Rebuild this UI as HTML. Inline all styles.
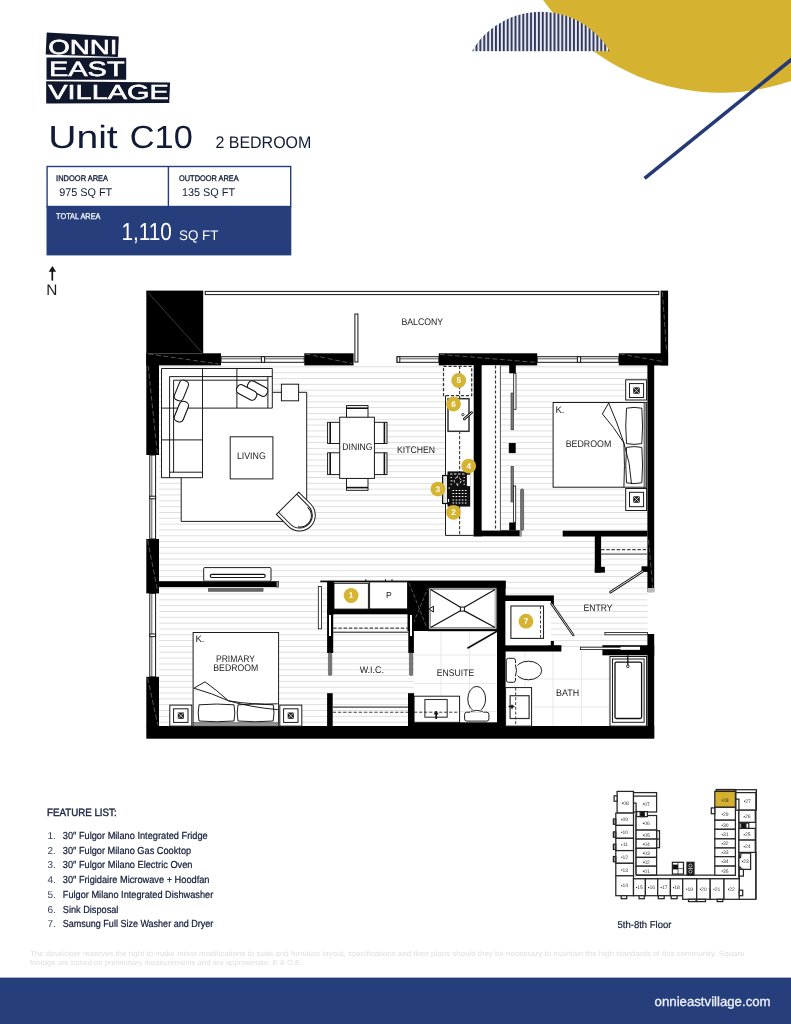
<!DOCTYPE html>
<html>
<head>
<meta charset="utf-8">
<title>Unit C10</title>
<style>
html,body{margin:0;padding:0;background:#fff;}
body{width:791px;height:1024px;overflow:hidden;font-family:"Liberation Sans",sans-serif;}
svg{display:block;position:absolute;left:0;top:0;will-change:transform;}
text{font-family:"Liberation Sans",sans-serif;text-rendering:geometricPrecision;}
.nv{fill:#111a36;}
.lbl{fill:#222;font-size:9.6px;}
</style>
</head>
<body>
<svg width="791" height="1024" viewBox="0 0 791 1024">
<defs>
  <pattern id="wood" x="0" y="5.2" width="10" height="5.825" patternUnits="userSpaceOnUse">
    <rect x="0" y="0" width="10" height="0.95" fill="#dedede"/>
  </pattern>
  <clipPath id="segclip"><circle cx="540.8" cy="91.5" r="79.8"/></clipPath>
  <pattern id="vstripe" x="534.05" y="0" width="3.9" height="10" patternUnits="userSpaceOnUse">
    <rect x="0" y="0" width="3.9" height="10" fill="#e6e8f5"/>
    <rect x="0" y="0" width="1.8" height="10" fill="#272e50"/>
  </pattern>
</defs>
<g>

<!-- ===== TOP RIGHT ART ===== -->
<g id="art">
  <circle cx="721" cy="-124.5" r="217.2" fill="#d5b331"/>
  <g clip-path="url(#segclip)"><rect x="470" y="10" width="142" height="41.2" fill="url(#vstripe)"/></g>
  <line x1="644.6" y1="178.3" x2="793" y2="58.3" stroke="#253a75" stroke-width="3.6"/>
</g>

<!-- ===== LOGO ===== -->
<g id="logo">
  <polygon points="46.7,32.4 118.8,36.5 117.9,56.9 45.7,54.4" fill="#10162c"/>
  <polygon points="46.5,57.5 126.2,57.7 126.2,79.7 46.5,79.7" fill="#10162c"/>
  <polygon points="46.2,81.3 170.1,82.5 169.2,102.9 46.2,103.4" fill="#10162c"/>
  <text x="48.3" y="53.8" font-size="20.3" fill="#fff" textLength="69.2" stroke="#fff" stroke-width="0.55" lengthAdjust="spacingAndGlyphs">ONNI</text>
  <text x="49" y="76.4" font-size="20.8" fill="#fff" textLength="75.6" stroke="#fff" stroke-width="0.55" lengthAdjust="spacingAndGlyphs">EAST</text>
  <text x="48.3" y="99.4" font-size="20.3" fill="#fff" textLength="120.5" stroke="#fff" stroke-width="0.55" lengthAdjust="spacingAndGlyphs">VILLAGE</text>
</g>

<!-- ===== TITLE ===== -->
<g id="title">
  <text x="48.2" y="147.6" font-size="32" class="nv" textLength="69.5" lengthAdjust="spacingAndGlyphs">Unit</text>
  <text x="129.8" y="147.6" font-size="32" class="nv" textLength="63" lengthAdjust="spacingAndGlyphs">C10</text>
  <text x="215.4" y="147.6" font-size="16.9" class="nv" textLength="96" lengthAdjust="spacingAndGlyphs">2 BEDROOM</text>
</g>

<!-- ===== AREA TABLE ===== -->
<g id="areas">
  <rect x="46.5" y="206" width="244.8" height="49.4" fill="#263e7c"/>
  <rect x="47.1" y="166.5" width="243.6" height="40" fill="#fff" stroke="#263e7c" stroke-width="1.4"/>
  <line x1="168.4" y1="166.4" x2="168.4" y2="206.4" stroke="#263e7c" stroke-width="1.4"/>
  <text x="56.1" y="181" font-size="8.2" class="nv" stroke="#111a36" stroke-width="0.3" textLength="52" lengthAdjust="spacingAndGlyphs">INDOOR AREA</text>
  <text x="59.2" y="196.3" font-size="11.2" class="nv" textLength="53" lengthAdjust="spacingAndGlyphs">975 SQ FT</text>
  <text x="179" y="181" font-size="8.2" class="nv" stroke="#111a36" stroke-width="0.3" textLength="59.7" lengthAdjust="spacingAndGlyphs">OUTDOOR AREA</text>
  <text x="182" y="196.3" font-size="11.2" class="nv" textLength="53" lengthAdjust="spacingAndGlyphs">135 SQ FT</text>
  <text x="56.1" y="219.3" font-size="8.2" fill="#fff" stroke="#fff" stroke-width="0.25" textLength="44.4" lengthAdjust="spacingAndGlyphs">TOTAL AREA</text>
  <text x="121.4" y="240.2" font-size="24.6" fill="#fff" textLength="50.5" lengthAdjust="spacingAndGlyphs">1,110</text>
  <text x="179" y="240.2" font-size="14" fill="#fff" textLength="39.5" lengthAdjust="spacingAndGlyphs">SQ FT</text>
</g>

<!-- ===== NORTH ARROW ===== -->
<g id="north">
  <line x1="52.3" y1="270" x2="52.3" y2="280.6" stroke="#161616" stroke-width="1.7"/>
  <polygon points="52.4,266 48.7,271.8 56.1,271.8" fill="#161616"/>
  <text x="46.2" y="294.6" font-size="15.4" fill="#1c1c1c">N</text>
</g>

<!-- ===== FLOOR PLAN ===== -->
<g id="plan">
  <!-- floor: wood hatch -->
  <g id="floor">
    <rect x="159" y="365" width="488.5" height="361" fill="#fff"/>
    <rect x="159" y="365" width="488.5" height="361" fill="url(#wood)"/>
    <!-- balcony white -->
    <rect x="203" y="294" width="458" height="59.5" fill="#fff"/>
    <!-- tiled baths -->
    <rect x="414" y="630" width="84" height="96" fill="#fff"/>
    <rect x="505.5" y="651" width="142" height="75" fill="#fff"/>
    <g stroke="#e3e3e3" stroke-width="0.8" fill="none">
      <path d="M441,630V726 M469.5,630V726 M414,655H498 M414,683.5H498 M414,711.5H498"/>
      <path d="M525,651V726 M553,651V726 M581.5,651V726 M609,651V726 M505.5,679H610 M505.5,707H610"/>
    </g>
  </g>

  <!-- WALLS -->
  <g id="walls" fill="#000">
    <rect x="146.3" y="290.6" width="56.9" height="63"/>
    <rect x="146.3" y="353.3" width="74.7" height="12.1"/>
    <rect x="146.3" y="353.3" width="12.7" height="101.7"/>
    <rect x="304.3" y="353.3" width="49.3" height="12.1"/>
    <rect x="438.8" y="353.3" width="98.4" height="12.1"/>
    <rect x="618.8" y="353.3" width="49.3" height="12.1"/>
    <rect x="660.6" y="290.6" width="7.5" height="74.8"/>
    <rect x="647.4" y="365" width="6.8" height="227"/>
    <rect x="647.4" y="634" width="6.8" height="104"/>
    <rect x="146.3" y="726" width="507.9" height="12.7"/>
    <rect x="146.3" y="539" width="12.7" height="54.4"/>
    <rect x="146.3" y="676.8" width="12.7" height="50"/>
    <rect x="159" y="581.2" width="119.6" height="5.9"/>
    <rect x="473.4" y="365" width="8.4" height="171.3"/>
    <rect x="473.4" y="530.3" width="48" height="6"/>
    <rect x="562.7" y="530.7" width="84.8" height="5.8"/>
    <rect x="594.8" y="536" width="6.3" height="36.6"/>
    <rect x="594.8" y="566.8" width="10.1" height="5.8"/>
    <rect x="641.5" y="566.3" width="10" height="5.6"/>
    <!-- WIC / shower block -->
    <rect x="320.3" y="580.6" width="185.3" height="1.6"/>
    <rect x="327.1" y="580.9" width="7" height="33.4"/>
    <rect x="327.1" y="609" width="87" height="5.3"/>
    <rect x="407.5" y="581" width="21.5" height="50"/>
    <rect x="407.5" y="581" width="98.1" height="7"/>
    <rect x="497" y="581" width="8.6" height="145"/>
    <rect x="428" y="629" width="70" height="2.2"/>
    <!-- laundry closet -->
    <rect x="500" y="595.4" width="53.9" height="5.6"/>
    <rect x="548" y="601" width="5.9" height="4"/>
    <rect x="500" y="645.2" width="61.4" height="6.3"/>
    <rect x="548" y="641" width="5.9" height="5"/>
    <!-- tub wall -->
    <rect x="602.4" y="645.2" width="51.8" height="10.1"/>
    <!-- WIC lower stubs -->
    <rect x="414" y="722.3" width="84" height="4"/>
    <rect x="327.1" y="693.2" width="5.6" height="33"/>
    <rect x="408" y="693.2" width="6.1" height="33"/>
  </g>

  <!-- wall detail lines -->
  <g id="walldetail" fill="none" stroke="#8a8a8a" stroke-width="0.6">
    <path d="M148,292.4L202,352.7" stroke="#4a4a4a" stroke-width="0.8"/>
    <path d="M147.5,353.6H202.5" stroke="#555" stroke-width="0.7"/>
    <path d="M148.5,353.9L218.5,364" stroke-dasharray="5,2.5"/>
    <path d="M305.6,353.9L352.6,363.6" stroke-dasharray="5,2.5"/>
    <path d="M440,354.4L535,362.3" stroke-dasharray="5,2.5"/>
    <path d="M619.8,353.9L662,361.4" stroke-dasharray="5,2.5"/>
    <path d="M148.2,366L157.4,454" stroke-dasharray="5,2.5"/>
    <path d="M147.6,540L157.8,592" stroke-dasharray="5,2.5"/>
    <path d="M147.6,678L157.8,725" stroke-dasharray="5,2.5"/>
    <path d="M662.4,292L666.6,352" stroke-dasharray="5,2.5"/>
    <path d="M648.6,540L653,590" stroke-dasharray="5,2.5"/>
    <path d="M409,583L427,628 M411,629L427.5,589" stroke-dasharray="4,2"/>
  </g>

  <!-- WINDOWS / BALCONY -->
  <g id="windows" fill="#fff" stroke="#151515" stroke-width="1">
    <rect x="205.2" y="291.4" width="453.6" height="3.2"/>
    <rect x="354.9" y="314" width="3" height="48"/>
    <rect x="221" y="356.7" width="83.3" height="5.6"/>
    <line x1="221" y1="358.8" x2="304.3" y2="358.8" stroke-width="0.7"/>
    <rect x="261.4" y="356.7" width="3.2" height="5.6"/>
    <rect x="397.1" y="356.7" width="41.7" height="5.6"/>
    <line x1="399.8" y1="358.8" x2="438.8" y2="358.8" stroke-width="0.7"/>
    <rect x="397.1" y="356.7" width="2.7" height="5.6"/>
    <rect x="537.2" y="356.7" width="81.6" height="5.6"/>
    <line x1="537.2" y1="358.8" x2="618.8" y2="358.8" stroke-width="0.7"/>
    <rect x="577.4" y="356.7" width="3.2" height="5.6"/>
    <rect x="149.8" y="455" width="5.8" height="84"/>
    <line x1="151.8" y1="455" x2="151.8" y2="539" stroke-width="0.7"/>
    <rect x="149.8" y="496.2" width="5.8" height="2.6"/>
    <rect x="149.8" y="593.4" width="5.8" height="83.4"/>
    <line x1="151.8" y1="593.4" x2="151.8" y2="676.8" stroke-width="0.7"/>
    <rect x="149.8" y="634" width="5.8" height="2.6"/>
  </g>

  <!-- LIVING -->
  <g id="living" fill="#fff" stroke="#111" stroke-width="0.95">
    <!-- rug -->
    <rect x="181.2" y="392.3" width="125.5" height="129.1" stroke="none"/>
    <path d="M272.3,392.3H281.4 M298.6,392.3H306.7V521.4H181.2V477.7" fill="none"/>
    <!-- side table -->
    <rect x="281.4" y="384.2" width="17.2" height="16.6"/>
    <!-- sofa -->
    <path d="M161.5,368.5H272.3V408.1H202.5V477.7H161.5Z"/>
    <path d="M169.6,477.7V376.6H272.3 M173.6,472.2V380.2H267.9 M267.9,376.6V408.1 M202.5,368.5V408.1 M236.9,368.5V408.1 M161.5,408.1H202.5 M161.5,439.9H202.5 M169.6,472.2H202.5" fill="none"/>
    <!-- cushions -->
    <rect x="-4.7" y="-10.6" width="9.4" height="21.2" rx="4" transform="translate(181.4,390.5) rotate(22)" stroke-width="1.1"/>
    <rect x="-4.7" y="-10.6" width="9.4" height="21.2" rx="4" transform="translate(181.4,411.6) rotate(22)" stroke-width="1.1"/>
    <rect x="-4.7" y="-10.6" width="9.4" height="21.2" rx="4" transform="translate(257.6,388.6) rotate(-62)" stroke-width="1.1"/>
    <rect x="-4.7" y="-10.6" width="9.4" height="21.2" rx="4" transform="translate(246.6,392.4) rotate(-62)" stroke-width="1.1"/>
    <!-- coffee table -->
    <rect x="230.2" y="436.8" width="42.7" height="42.1"/>
    <!-- armchair -->
    <g transform="translate(276.4,514.4) rotate(-45)">
      <path d="M0,0H31.6V16.9A15.8,15.8 0 0 1 0,16.9Z"/>
      <path d="M3,0V16.9A12.8,12.8 0 0 0 28.6,16.9V0" fill="none"/>
      <path d="M6.5,24A11.2,11.2 0 0 0 27,17" fill="none"/>
    </g>
  </g>

  <!-- DINING -->
  <g id="dining" fill="#fff" stroke="#111" stroke-width="0.95">
    <rect x="346.5" y="405.6" width="21.5" height="12"/>
    <path d="M346.5,408.2H368" fill="none" stroke-width="1.6"/>
    <rect x="346.5" y="478" width="21.5" height="12.3"/>
    <path d="M346.5,487.6H368" fill="none" stroke-width="1.6"/>
    <rect x="327.6" y="422.3" width="12.5" height="21.2"/>
    <path d="M330.2,422.3V443.5" fill="none" stroke-width="1.6"/>
    <rect x="327.6" y="452.8" width="12.5" height="21.8"/>
    <path d="M330.2,452.8V474.6" fill="none" stroke-width="1.6"/>
    <rect x="374" y="422.3" width="13" height="21.2"/>
    <path d="M384.4,422.3V443.5" fill="none" stroke-width="1.6"/>
    <rect x="374" y="452.8" width="13" height="21.8"/>
    <path d="M384.4,452.8V474.6" fill="none" stroke-width="1.6"/>
    <rect x="339.7" y="417.2" width="34.7" height="61.2"/>
  </g>

  <!-- KITCHEN -->
  <g id="kitchen" fill="#fff" stroke="#111" stroke-width="0.95">
    <rect x="445.5" y="365.4" width="28" height="170" stroke="none"/>
    <path d="M445.5,395.6V535.4H473.4" fill="none"/>
    <rect x="481.8" y="365.4" width="18.6" height="165" stroke="none"/>
    <path d="M459.6,366V535" fill="none" stroke="#444" stroke-dasharray="3.2,1.8" stroke-width="1.15"/>
    <rect x="443.5" y="366.4" width="28.2" height="29.2" fill="none" stroke="#333" stroke-width="1.2" stroke-dasharray="3.2,1.8"/>
    <rect x="448" y="398.7" width="21" height="32.6" stroke="#333" stroke-width="1.5"/>
    <circle cx="462.9" cy="414.6" r="1.2" fill="#fff" stroke-width="0.8"/>
    <path d="M464.3,419L471.6,412.6" stroke="#111" stroke-width="2.6" stroke-linecap="round"/>
    <path d="M464.3,419L471.6,412.6" stroke="#fff" stroke-width="0.9" stroke-linecap="round"/>
    <!-- cooktop / oven -->
    <rect x="442.6" y="475.5" width="5" height="28" fill="#e4e4e4" stroke="#111" stroke-width="1.2"/>
    <rect x="447.5" y="471.4" width="22.7" height="35.2" fill="#111" stroke="none"/>
    <rect x="466.9" y="474.7" width="3.3" height="11.4" fill="#fff" stroke="none"/>
    <g stroke="#fff" fill="none" stroke-width="0.9">
      <path d="M450,474H465" stroke-dasharray="2.5,1.5"/>
      <circle cx="457.6" cy="480.8" r="3.4" stroke-dasharray="2.6,1.7"/>
      <path d="M450.5,480.8H452.5 M462.8,480.8H464.8 M457.6,475.8V477 M457.6,484.7V486" />
      <path d="M450.5,477.5h1.5 M463.5,477.5h1.5 M450.5,484.2h1.5 M463.5,484.2h1.5"/>
      <path d="M452.5,490.5H467.5 M452.5,493.5H467.5 M452.5,496.5H467.5 M452.5,500H467.5 M452.5,503H467.5" stroke-dasharray="1.6,1.5" stroke-width="1.1"/>
      <path d="M448.5,488h1.5 M448.5,499v3" stroke-width="1.2"/>
    </g>
    <!-- closet behind kitchen wall -->
    <path d="M495.5,365.4V530.3" fill="none" stroke="#333" stroke-dasharray="3.2,1.8" stroke-width="1.2"/>
    <path d="M500.4,365.4V530.3" fill="none" stroke="#555" stroke-width="1"/>
    <rect x="509.2" y="365" width="6.6" height="8.3" fill="#000" stroke="none"/>
    <rect x="508.8" y="443" width="6.9" height="10.1" fill="#000" stroke="none"/>
    <rect x="509.2" y="522.5" width="6.6" height="8" fill="#000" stroke="none"/>
    <rect x="513.7" y="373.3" width="2.3" height="36" stroke-width="0.8"/>
    <rect x="511" y="393" width="2.7" height="36.8" fill="#777" stroke="#333" stroke-width="0.6"/>
    <rect x="511" y="466.4" width="2.5" height="35.6" fill="#777" stroke="#333" stroke-width="0.6"/>
    <rect x="513.4" y="486" width="2.3" height="36.5" stroke-width="0.8"/>
    <rect x="520.6" y="489" width="3" height="41.3" rx="1.2" fill="#777" stroke="#333" stroke-width="0.6"/>
    <rect x="519.5" y="530.3" width="2" height="6" fill="#999" stroke="none"/>
  </g>

  <!-- BEDROOM -->
  <g id="bedroom" fill="#fff" stroke="#111" stroke-width="0.95">
    <rect x="625.7" y="379.8" width="20.9" height="20.2"/>
    <rect x="629.5" y="383.6" width="14.1" height="13.9"/>
    <rect x="633.7" y="387.8" width="5.6" height="5.6" fill="#222" stroke-width="0.6"/>
    <path d="M633.7,387.8l5.6,5.6m0,-5.6l-5.6,5.6" stroke="#fff" stroke-width="0.7"/>
    <rect x="625.7" y="488.5" width="20.9" height="22"/>
    <rect x="629.5" y="492.3" width="14.1" height="14.4"/>
    <rect x="633.7" y="496.7" width="5.6" height="5.6" fill="#222" stroke-width="0.6"/>
    <path d="M633.7,496.7l5.6,5.6m0,-5.6l-5.6,5.6" stroke="#fff" stroke-width="0.7"/>
    <rect x="553.1" y="402.5" width="93.5" height="84.7"/>
    <rect x="644" y="402.5" width="2.6" height="84.7" fill="#999" stroke-width="0.5"/>
    <path d="M626.5,408.2Q634,406.6 641.8,408.2Q643.3,426 641.8,443.6Q634,445.2 626.5,443.6Q625,426 626.5,408.2Z"/>
    <path d="M626.5,447.4Q634,445.8 641.8,447.4Q643.3,465 641.8,482.8Q634,484.4 626.5,482.8Q625,465 626.5,447.4Z"/>
    <path d="M608.7,403L602.4,413.9Q614,427 623.9,443 M608.7,403Q617.5,423 623.9,443Q630.5,463 631.5,484 M623.9,443Q625,466 623.9,487.2" fill="none"/>
  </g>

  <!-- ENTRY / CLOSET -->
  <g id="entry" fill="#fff" stroke="#111" stroke-width="0.95">
    <path d="M601.1,549.6H647.4" fill="none" stroke="#444" stroke-dasharray="3.4,1.8" stroke-width="1.3"/>
    <path d="M601.1,554.2H647.4" fill="none" stroke="#666" stroke-width="1.2"/>
    <path d="M642.6,571.3L610.5,592.1" stroke="#111" stroke-width="2.6" stroke-linecap="round"/>
    <path d="M642.6,571.3L610.5,592.1" stroke="#fff" stroke-width="0.9" stroke-linecap="round"/>
    <rect x="647.4" y="588" width="6.8" height="4.6" fill="#bbb" stroke="none"/>
    <!-- laundry -->
    <rect x="505.6" y="601" width="45.2" height="44.2" stroke="none"/>
    <rect x="510.9" y="606" width="32.6" height="32.4" stroke="#222" stroke-width="1.1"/>
    <path d="M540.5,606V638.4" fill="none" stroke="#333" stroke-dasharray="3,1.8"/>
    <path d="M551.6,603.8L573.3,635.1" stroke="#111" stroke-width="2.4" stroke-linecap="round"/>
    <path d="M551.6,603.8L573.3,635.1" stroke="#fff" stroke-width="0.8" stroke-linecap="round"/>
    <!-- bath doors -->
    <rect x="604.9" y="632.6" width="42.5" height="2.2" stroke-width="0.8"/>
    <rect x="580.4" y="647.2" width="59.4" height="2.4" stroke-width="0.8"/>
    <rect x="620.5" y="646.8" width="19.5" height="3" fill="#fff" stroke="none"/>
  </g>

  <!-- BATH -->
  <g id="bath" fill="#fff" stroke="#111" stroke-width="0.95">
    <rect x="610" y="656.5" width="36.6" height="69.6"/>
    <rect x="612.5" y="659" width="31.6" height="63.3"/>
    <rect x="615" y="662.1" width="26.6" height="56.4" rx="1.5" stroke-width="1.3"/>
    <path d="M627.8,655.3V665" fill="none" stroke-width="1.3"/>
    <circle cx="627.8" cy="666.3" r="1.3" stroke-width="0.9"/>
    <rect x="506.3" y="658.3" width="9.2" height="24" rx="2.2"/>
    <ellipse cx="528.4" cy="670.5" rx="13.3" ry="9.3"/>
    <rect x="514" y="663" width="3.4" height="15" stroke="none"/>
    <path d="M515.4,664.5Q517.6,670.5 515.4,676.5" fill="none"/>
    <rect x="505.6" y="687.6" width="26" height="38.5"/>
    <rect x="510.1" y="695.7" width="19" height="22.8" stroke="#333" stroke-width="1.2"/>
    <path d="M515.7,687.6V726" fill="none" stroke="#333" stroke-dasharray="3,1.8"/>
    <path d="M508.6,706.6H514.4 M512,704.8V708.8" fill="none" stroke-width="1.5"/>
  </g>

  <!-- ENSUITE -->
  <g id="ensuite" fill="#fff" stroke="#111" stroke-width="0.95">
    <rect x="428.7" y="587.8" width="68.3" height="41.5" stroke-width="1.2"/>
    <rect x="430.6" y="589.6" width="64.5" height="37.9" stroke="#555" stroke-width="0.6"/>
    <path d="M430.6,589.6L460.9,607.6 M495.1,589.6L463.9,607.6 M430.6,627.5L460.9,610.6 M495.1,627.5L463.9,610.6" fill="none" stroke-width="1.2"/>
    <rect x="460.4" y="607.1" width="4" height="4" stroke-width="1"/>
    <path d="M429.2,609.1L433.4,606.2V612Z" fill="#fff" stroke-width="1"/>
    <path d="M497,631.3L467.4,648.2" fill="none" stroke-width="1.7"/>
    <rect x="414.1" y="696.2" width="45.5" height="26.1"/>
    <rect x="424.9" y="699.5" width="22.3" height="17.7" stroke="#333" stroke-width="1.1"/>
    <path d="M414.1,712.2H459.6" fill="none" stroke="#333" stroke-dasharray="3.2,1.8"/>
    <path d="M436.2,711V719 M434.2,713.6H438.2" fill="none" stroke-width="1.7"/>
    <rect x="464.6" y="712.2" width="24.3" height="8.9" rx="2.2"/>
    <ellipse cx="476.7" cy="699" rx="8.9" ry="12.6"/>
    <rect x="470" y="709.8" width="13.5" height="3" stroke="none"/>
    <path d="M470.6,711.4Q476.7,709.4 482.9,711.4" fill="none"/>
  </g>

  <!-- WIC / PANTRY -->
  <g id="wic" fill="#fff" stroke="#111" stroke-width="0.95">
    <rect x="334" y="583.3" width="34.4" height="25.8"/>
    <rect x="369.6" y="581.9" width="37.9" height="27"/>
    <path d="M365.8,579.2V581 M385.5,579.2V581 M392,579.2V581" fill="none" stroke-width="1"/>
    <rect x="318.3" y="586.4" width="3.1" height="42.5" stroke-width="0.8"/>
    <path d="M333.2,628.1H408.3" fill="none" stroke="#444" stroke-dasharray="3.4,1.8" stroke-width="1.1"/>
    <path d="M333.2,632.2H408.3" fill="none" stroke-width="1"/>
    <path d="M332.7,707.1H408" fill="none" stroke-width="1"/>
    <path d="M332.7,712.2H408" fill="none" stroke="#444" stroke-dasharray="3.4,1.8" stroke-width="1.1"/>
    <rect x="327.1" y="614" width="6.1" height="39" fill="#000" stroke="none"/>
    <rect x="329" y="615" width="2" height="21" stroke="none"/>
    <rect x="328.4" y="652.8" width="3.4" height="22.6" rx="1.2" fill="#777" stroke="#444" stroke-width="0.5"/>
    <rect x="408.3" y="614" width="5.6" height="39" fill="#000" stroke="none"/>
    <rect x="410" y="615" width="2" height="21" stroke="none"/>
    <rect x="409.4" y="652.8" width="3.4" height="22.6" rx="1.2" fill="#777" stroke="#444" stroke-width="0.5"/>
  </g>

  <!-- PRIMARY BEDROOM -->
  <g id="primary" fill="#fff" stroke="#111" stroke-width="0.95">
    <rect x="203.7" y="567.6" width="67.3" height="13.6" rx="1"/>
    <rect x="210.3" y="574.4" width="54.9" height="3.1" rx="1.5" stroke-width="1.2"/>
    <rect x="208.3" y="588.3" width="54.8" height="3.1" fill="#666" stroke="#444" stroke-width="0.5"/>
    <rect x="276.2" y="581.2" width="2.4" height="5.9" fill="#888" stroke="#222" stroke-width="0.5"/>
    <rect x="169.8" y="705.1" width="22" height="21"/>
    <rect x="173.6" y="708.8" width="14.4" height="13.6"/>
    <rect x="178.1" y="712.9" width="5.6" height="5.6" fill="#222" stroke-width="0.6"/>
    <path d="M178.1,712.9l5.6,5.6m0,-5.6l-5.6,5.6" stroke="#fff" stroke-width="0.7"/>
    <rect x="279.8" y="705.1" width="22" height="21"/>
    <rect x="283.6" y="708.8" width="14.4" height="13.6"/>
    <rect x="288.0" y="712.9" width="5.6" height="5.6" fill="#222" stroke-width="0.6"/>
    <path d="M288.0,712.9l5.6,5.6m0,-5.6l-5.6,5.6" stroke="#fff" stroke-width="0.7"/>
    <rect x="193.1" y="632.5" width="85.5" height="93.6"/>
    <rect x="193.1" y="722.8" width="85.5" height="3.3" fill="#999" stroke-width="0.5"/>
    <path d="M199,704.8Q216.500,703.300 234,704.8Q235.600,713 234,721Q216.500,722.500 199,721Q197.400,713 199,704.8Z"/>
    <path d="M238,704.8Q255.600,703.300 273.200,704.800Q274.800,713 273.200,721Q255.600,722.500 238,721Q236.400,713 238,704.800Z"/>
    <path d="M193.9,688.2L205,681.8Q217,690.500 228.5,700.8 M193.9,688.2Q212,693.200 228.5,700.8Q252,705 277.8,703.8 M228.5,700.8Q251,707.400 277.800,709.600" fill="none"/>
  </g>

  <!-- NUMBER BADGES -->
  <g id="badges" font-size="8.2" font-weight="bold" text-anchor="middle" fill="#fff">
    <circle cx="458.7" cy="380.5" r="7.4" fill="#d4b432"/><text x="458.7" y="383.4">5</text>
    <circle cx="453.5" cy="404" r="7.4" fill="#d4b432"/><text x="453.5" y="406.9">6</text>
    <circle cx="468.7" cy="466.1" r="7.4" fill="#d4b432"/><text x="468.7" y="469">4</text>
    <circle cx="437.9" cy="489.1" r="7.4" fill="#d4b432"/><text x="437.9" y="492">3</text>
    <circle cx="453.5" cy="512.3" r="7.4" fill="#d4b432"/><text x="453.5" y="515.2">2</text>
    <circle cx="351.1" cy="595.5" r="7.4" fill="#d4b432"/><text x="351.1" y="598.4">1</text>
    <circle cx="526" cy="621.2" r="7.4" fill="#d4b432"/><text x="526" y="624.1">7</text>
  </g>

  <!-- LABELS -->
  <g id="labels" class="lbl">
    <text x="401.4" y="324.8" textLength="41.7" lengthAdjust="spacingAndGlyphs">BALCONY</text>
    <text x="236.9" y="458.6" textLength="28.9" lengthAdjust="spacingAndGlyphs">LIVING</text>
    <text x="342.3" y="450.3" textLength="30.3" lengthAdjust="spacingAndGlyphs">DINING</text>
    <text x="397" y="453.4" textLength="38" lengthAdjust="spacingAndGlyphs">KITCHEN</text>
    <text x="565.7" y="447.2" textLength="45.6" lengthAdjust="spacingAndGlyphs">BEDROOM</text>
    <text x="555.4" y="412.6">K.</text>
    <text x="583.4" y="611.3" textLength="29.1" lengthAdjust="spacingAndGlyphs">ENTRY</text>
    <text x="556.1" y="695.6" textLength="23" lengthAdjust="spacingAndGlyphs">BATH</text>
    <text x="436.8" y="676" textLength="37.4" lengthAdjust="spacingAndGlyphs">ENSUITE</text>
    <text x="359.7" y="672.5" textLength="24.3" lengthAdjust="spacingAndGlyphs">W.I.C.</text>
    <text x="215.9" y="661.8" textLength="39.1" lengthAdjust="spacingAndGlyphs">PRIMARY</text>
    <text x="213.3" y="671.4" textLength="45" lengthAdjust="spacingAndGlyphs">BEDROOM</text>
    <text x="195.4" y="642.2">K.</text>
    <text x="385.9" y="598.2" font-size="8.6">P</text>
  </g>
</g>

<!-- ===== FEATURE LIST ===== -->
<g id="features" class="nv">
  <text x="47.1" y="815.7" font-size="10.6" fill="#1a2340" stroke="#1a2340" stroke-width="0.4" textLength="69.5" lengthAdjust="spacingAndGlyphs">FEATURE LIST:</text>
  <text x="47.4" y="839.2" font-size="10" fill="#3a435c">1.</text>
  <text x="62.8" y="839.2" font-size="10.2" stroke="#111a36" stroke-width="0.22" textLength="144.9" lengthAdjust="spacingAndGlyphs">30″ Fulgor Milano Integrated Fridge</text>
  <text x="47.4" y="853.6" font-size="10" fill="#3a435c">2.</text>
  <text x="62.8" y="853.6" font-size="10.2" stroke="#111a36" stroke-width="0.22" textLength="128.4" lengthAdjust="spacingAndGlyphs">30″ Fulgor Milano Gas Cooktop</text>
  <text x="47.4" y="868.3" font-size="10" fill="#3a435c">3.</text>
  <text x="62.8" y="868.3" font-size="10.2" stroke="#111a36" stroke-width="0.22" textLength="129.7" lengthAdjust="spacingAndGlyphs">30″ Fulgor Milano Electric Oven</text>
  <text x="47.4" y="883.4" font-size="10" fill="#3a435c">4.</text>
  <text x="62.8" y="883.4" font-size="10.2" stroke="#111a36" stroke-width="0.22" textLength="146.7" lengthAdjust="spacingAndGlyphs">30″ Frigidaire Microwave + Hoodfan</text>
  <text x="47.4" y="898.1" font-size="10" fill="#3a435c">5.</text>
  <text x="62.8" y="898.1" font-size="10.2" stroke="#111a36" stroke-width="0.22" textLength="150.4" lengthAdjust="spacingAndGlyphs">Fulgor Milano Integrated Dishwasher</text>
  <text x="47.4" y="912.5" font-size="10" fill="#3a435c">6.</text>
  <text x="62.8" y="912.5" font-size="10.2" stroke="#111a36" stroke-width="0.22" textLength="55.6" lengthAdjust="spacingAndGlyphs">Sink Disposal</text>
  <text x="47.4" y="927.2" font-size="10" fill="#3a435c">7.</text>
  <text x="62.8" y="927.2" font-size="10.2" stroke="#111a36" stroke-width="0.22" textLength="150.4" lengthAdjust="spacingAndGlyphs">Samsung Full Size Washer and Dryer</text>
</g>

<!-- ===== KEY PLAN ===== -->
<g id="keyplan">
<g fill="#fff" stroke="#262626" stroke-width="1.25">
<rect x="739.2" y="852.4" width="16.7" height="46.9"/>
<rect x="617.1" y="791.4" width="16.4" height="21.7"/>
<rect x="615.8" y="813.1" width="17.7" height="12.3"/>
<rect x="615.8" y="825.4" width="17.7" height="12.9"/>
<rect x="615.8" y="838.3" width="17.7" height="12.3"/>
<rect x="615.8" y="850.6" width="17.7" height="12.7"/>
<rect x="615.8" y="863.3" width="17.7" height="12.5"/>
<rect x="615.8" y="875.8" width="17.7" height="19.9"/>
<rect x="614.1" y="795.8" width="3.0" height="5.4"/>
<rect x="613.4" y="819.0" width="2.4" height="5.3" fill="#999"/>
<rect x="613.4" y="831.9" width="2.4" height="5.3" fill="#999"/>
<rect x="613.4" y="844.2" width="2.4" height="5.3" fill="#999"/>
<rect x="613.4" y="856.5" width="2.4" height="5.3" fill="#999"/>
<rect x="633.5" y="792.6" width="23.1" height="19.4"/>
<path d="M633.5,796.1H656.6" fill="none"/>
<path d="M633.5,803.2H636.1V874.6" fill="none"/>
<rect x="656.6" y="830.7" width="2.9" height="17.0"/>
<path d="M656.6,839.1H659.5" fill="none"/>
<rect x="636.1" y="815.5" width="20.5" height="14.6"/>
<rect x="636.1" y="830.1" width="20.5" height="9.0"/>
<rect x="636.1" y="839.1" width="20.5" height="9.2"/>
<rect x="636.1" y="848.3" width="20.5" height="9.1"/>
<rect x="636.1" y="857.4" width="20.5" height="8.8"/>
<rect x="636.1" y="866.2" width="20.5" height="9.0"/>
<rect x="636.6" y="811.6" width="10.8" height="5.0"/>
<rect x="640.2" y="811.6" width="4.1" height="5.0" fill="#111"/>
<path d="M636.1,875.2H735.4 M633.5,878.8H739.2" fill="none"/>
<rect x="633.5" y="878.8" width="11.9" height="16.9"/>
<rect x="645.4" y="878.8" width="12.3" height="16.9"/>
<rect x="657.7" y="878.8" width="12.7" height="16.9"/>
<rect x="670.4" y="878.8" width="12.3" height="16.9"/>
<rect x="682.7" y="878.8" width="14.0" height="20.5"/>
<rect x="696.7" y="878.8" width="13.5" height="20.5"/>
<rect x="710.2" y="878.8" width="13.8" height="20.5"/>
<rect x="724.0" y="878.8" width="15.2" height="20.5"/>
<path d="M709,888.5l1.2,1.2V899.3" fill="none" stroke-width="0.7"/>
<rect x="621.2" y="895.7" width="5.5" height="3.0"/>
<rect x="639.0" y="895.7" width="5.3" height="3.0"/>
<rect x="658.3" y="895.7" width="5.9" height="3.0"/>
<rect x="671.2" y="895.7" width="5.9" height="3.0"/>
<rect x="688.5" y="899.3" width="7.6" height="2.3"/>
<rect x="696.7" y="899.3" width="8.8" height="2.3"/>
<rect x="717.2" y="899.3" width="5.6" height="2.3"/>
<rect x="739.2" y="890.2" width="3.5" height="5.5"/>
<rect x="672.4" y="862.3" width="11.1" height="11.8"/>
<path d="M678,862.3V874.1 M672.4,868.6H683.5" fill="none" stroke-width="0.7"/>
<rect x="673.0" y="864.6" width="5.0" height="4.8" fill="#111" stroke="none"/>
<rect x="687.0" y="862.3" width="7.0" height="12.9" fill="#111"/>
<g fill="none" stroke="#fff" stroke-width="0.7"><circle cx="690.5" cy="865.6" r="1.6"/><circle cx="690.5" cy="871.6" r="1.6"/><path d="M688,868.6H693"/></g>
<rect x="716.2" y="789.5" width="19.2" height="3.1" fill="#9b8535"/>
<rect x="714.8" y="791.4" width="20.6" height="15.9" fill="#d4b02e"/>
<rect x="714.8" y="807.3" width="20.6" height="12.9"/>
<rect x="714.8" y="820.2" width="20.6" height="9.1"/>
<rect x="714.8" y="829.3" width="20.6" height="9.6"/>
<rect x="714.8" y="838.9" width="20.6" height="9.1"/>
<rect x="714.8" y="848.0" width="20.6" height="8.7"/>
<rect x="714.8" y="856.7" width="20.6" height="9.4"/>
<rect x="714.8" y="866.1" width="20.6" height="9.1"/>
<rect x="711.3" y="807.9" width="3.5" height="5.8"/>
<rect x="735.9" y="789.7" width="20.5" height="20.5"/>
<path d="M735.9,792.6H756.4" fill="none"/>
<path d="M735.4,799.1H738.9V878.8" fill="none"/>
<rect x="738.9" y="810.2" width="16.4" height="12.1"/>
<rect x="739.2" y="823.1" width="9.6" height="5.3"/>
<rect x="741.2" y="823.1" width="4.7" height="5.3" fill="#111"/>
<rect x="738.9" y="828.4" width="16.4" height="11.7"/>
<rect x="738.9" y="840.1" width="16.4" height="12.3"/>
<path d="M741,853H750.6V869.4H741.5L740.5,867.2H738.9V857.5H740.5Z"/>
<path d="M755.9,791.4V899.3 M738.9,869.4H743.4V876H738.9" fill="none"/>
</g>
<g font-size="5" fill="#333" text-anchor="middle">
<text x="626.0" y="804.8">08</text><rect x="621.9" y="802.7" width="1.1" height="1.1" fill="#222"/>
<text x="625.3" y="821.3">09</text><rect x="621.2" y="819.2" width="1.1" height="1.1" fill="#222"/>
<text x="625.3" y="833.9">10</text><rect x="621.2" y="831.8" width="1.1" height="1.1" fill="#222"/>
<text x="625.3" y="846.4">11</text><rect x="621.2" y="844.3" width="1.1" height="1.1" fill="#222"/>
<text x="625.3" y="858.8">12</text><rect x="621.2" y="856.7" width="1.1" height="1.1" fill="#222"/>
<text x="625.3" y="871.5">13</text><rect x="621.2" y="869.4" width="1.1" height="1.1" fill="#222"/>
<text x="625.3" y="887.2">14</text><rect x="621.2" y="885.1" width="1.1" height="1.1" fill="#222"/>
<text x="647.0" y="805.5">07</text><rect x="642.9" y="803.4" width="1.1" height="1.1" fill="#222"/>
<text x="647.0" y="824.9">06</text><rect x="642.9" y="822.8" width="1.1" height="1.1" fill="#222"/>
<text x="647.0" y="836.7">05</text><rect x="642.9" y="834.6" width="1.1" height="1.1" fill="#222"/>
<text x="647.0" y="845.7">04</text><rect x="642.9" y="843.6" width="1.1" height="1.1" fill="#222"/>
<text x="647.0" y="854.8">03</text><rect x="642.9" y="852.7" width="1.1" height="1.1" fill="#222"/>
<text x="647.0" y="863.8">02</text><rect x="642.9" y="861.7" width="1.1" height="1.1" fill="#222"/>
<text x="647.0" y="872.8">01</text><rect x="642.9" y="870.7" width="1.1" height="1.1" fill="#222"/>
<text x="640.1" y="889.1">15</text><rect x="636.0" y="887.0" width="1.1" height="1.1" fill="#222"/>
<text x="652.2" y="889.1">16</text><rect x="648.1" y="887.0" width="1.1" height="1.1" fill="#222"/>
<text x="664.7" y="889.1">17</text><rect x="660.6" y="887.0" width="1.1" height="1.1" fill="#222"/>
<text x="677.1" y="889.1">18</text><rect x="673.0" y="887.0" width="1.1" height="1.1" fill="#222"/>
<text x="690.2" y="890.8">19</text><rect x="686.1" y="888.7" width="1.1" height="1.1" fill="#222"/>
<text x="703.9" y="890.8">20</text><rect x="699.8" y="888.7" width="1.1" height="1.1" fill="#222"/>
<text x="717.5" y="890.8">21</text><rect x="713.4" y="888.7" width="1.1" height="1.1" fill="#222"/>
<text x="732.1" y="890.8">22</text><rect x="728.0" y="888.7" width="1.1" height="1.1" fill="#222"/>
<text x="725.8" y="801.8">28</text><rect x="721.7" y="799.7" width="1.1" height="1.1" fill="#222"/>
<text x="725.8" y="815.8">29</text><rect x="721.7" y="813.7" width="1.1" height="1.1" fill="#222"/>
<text x="725.8" y="826.9">30</text><rect x="721.7" y="824.8" width="1.1" height="1.1" fill="#222"/>
<text x="725.8" y="836.2">31</text><rect x="721.7" y="834.1" width="1.1" height="1.1" fill="#222"/>
<text x="725.8" y="845.3">32</text><rect x="721.7" y="843.2" width="1.1" height="1.1" fill="#222"/>
<text x="725.8" y="854.2">33</text><rect x="721.7" y="852.1" width="1.1" height="1.1" fill="#222"/>
<text x="725.8" y="863.3">34</text><rect x="721.7" y="861.2" width="1.1" height="1.1" fill="#222"/>
<text x="725.8" y="872.6">35</text><rect x="721.7" y="870.5" width="1.1" height="1.1" fill="#222"/>
<text x="748.1" y="802.8">27</text><rect x="744.0" y="800.7" width="1.1" height="1.1" fill="#222"/>
<text x="747.8" y="818.2">26</text><rect x="743.7" y="816.1" width="1.1" height="1.1" fill="#222"/>
<text x="747.8" y="836.2">25</text><rect x="743.7" y="834.1" width="1.1" height="1.1" fill="#222"/>
<text x="747.8" y="848.2">24</text><rect x="743.7" y="846.1" width="1.1" height="1.1" fill="#222"/>
<text x="746.1" y="863.0">23</text><rect x="742.0" y="860.9" width="1.1" height="1.1" fill="#222"/>
</g>
<text x="617.5" y="927.7" font-size="10" class="nv" stroke="#111a36" stroke-width="0.2" textLength="53.9" lengthAdjust="spacingAndGlyphs">5th-8th Floor</text>
</g>

<g id="disclaimer" fill="#dedede" font-size="7.4">
  <text x="29.9" y="955.8" textLength="714.6" lengthAdjust="spacingAndGlyphs">The developer reserves the right to make minor modifications to suite and furniture layout, specifications and floor plans should they be necessary to maintain the high standards of this community. Square</text>
  <text x="29.9" y="965" textLength="272.5" lengthAdjust="spacingAndGlyphs">footage are based on preliminary measurements and are approximate. E &amp; O.E.</text>
</g>

<!-- ===== FOOTER ===== -->
<g id="footer">
  <rect x="0" y="977.6" width="791" height="46.4" fill="#263e7c"/>
  <text x="654.6" y="1006.4" font-size="13.3" fill="#eef1fa" stroke="#eef1fa" stroke-width="0.3" textLength="116" lengthAdjust="spacingAndGlyphs">onnieastvillage.com</text>
</g>
</g>
</svg>
</body>
</html>
